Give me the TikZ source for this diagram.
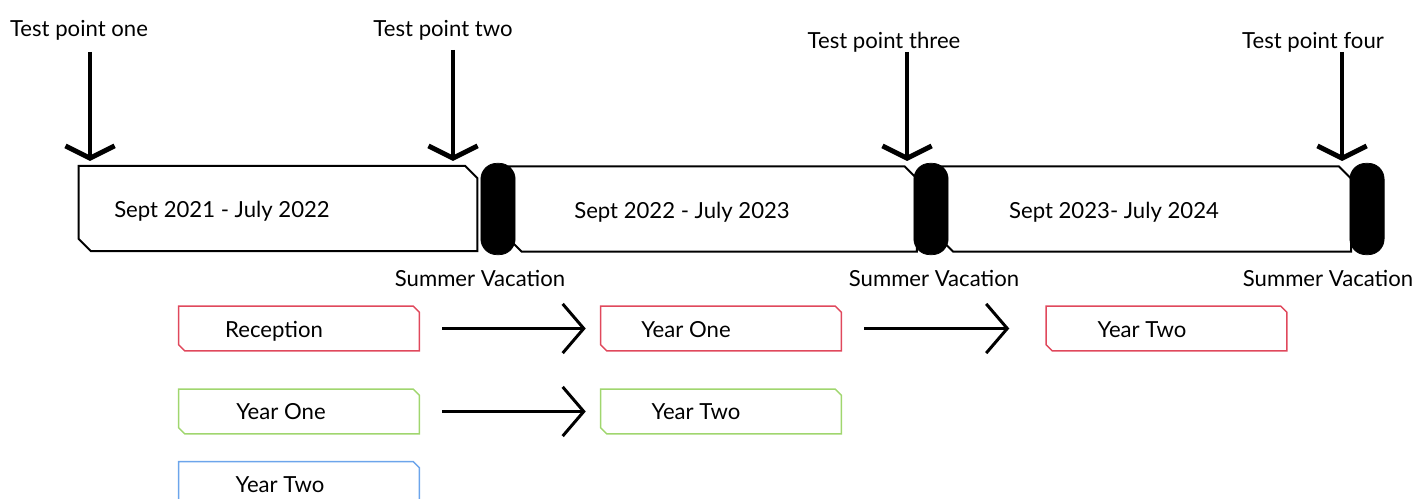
\documentclass[tikz,border=0pt]{standalone}
\usepackage{fontspec}
\setmainfont{Lato}
\usetikzlibrary{arrows.meta}
\definecolor{recred}{RGB}{224,72,92}
\definecolor{yrgreen}{RGB}{160,214,110}
\definecolor{yrblue}{RGB}{108,165,235}
% outline with cut corners (top right, bottom left) round a named node
\newcommand{\cutbox}[3][]{%
  \draw[#1] ([xshift=-#3]#2.north east) -- ([yshift=-#3]#2.north east) -- (#2.south east)
    -- ([xshift=#3]#2.south west) -- ([yshift=#3]#2.south west) -- (#2.north west) -- cycle;}
\begin{document}
\begin{tikzpicture}[x=0.02cm,y=-0.02cm,
  every node/.style={font=\fontsize{12.6}{14}\selectfont, text height=2.3ex, text depth=0.45ex},
  yearbox/.style={inner sep=0pt, outer sep=0pt, minimum height=48.5pt},
  classbox/.style={inner sep=0pt, outer sep=0pt, minimum width=137pt, minimum height=25.5pt},
  vacation/.style={fill=black, draw=black, rounded corners=9pt, minimum width=19.5pt, minimum height=52pt, inner sep=0pt},
  tparrow/.style={line width=2.8pt, -{Straight Barb[length=7pt, width=28pt, line width=2.8pt]}},
  moveon/.style={line width=1.7pt, -{Straight Barb[length=12pt, width=28pt, line width=1.7pt]}}]
\useasboundingbox (0,0) rectangle (1415,499);
% school years
\node[yearbox, minimum width=227pt] (y1) at (278,208.5) {};
\node[yearbox, minimum width=232pt] (y2) at (713,209) {};
\node[yearbox, minimum width=233.5pt] (y3) at (1146,209) {};
\cutbox[line width=1.1pt]{y1}{7pt}
\cutbox[line width=1.1pt]{y2}{7pt}
\cutbox[line width=1.1pt]{y3}{7pt}
\node (y1t) at (222,209) {Sept 2021 - July 2022};
\node (y2t) at (682,210) {Sept 2022 - July 2023};
\node (y3t) at (1114,210) {Sept 2023- July 2024};
% summer vacations
\node[vacation] (v1) at (498,209) {};
\node[vacation] (v2) at (931,209) {};
\node[vacation] (v3) at (1367,209) {};
\node (v1t) at (480,278) {Summer Vacation};
\node (v2t) at (934,278) {Summer Vacation};
\node (v3t) at (1328,278) {Summer Vacation};
% test points
\node (tp1) at (79,28) {Test point one};
\node (tp2) at (443,28) {Test point two};
\node (tp3) at (884,40) {Test point three};
\node (tp4) at (1313,40) {Test point four};
\coordinate (a1) at (90,52);  \coordinate (b1) at (90,161);
\coordinate (a2) at (453,50); \coordinate (b2) at (453,161);
\coordinate (a3) at (907,52); \coordinate (b3) at (907,161);
\coordinate (a4) at (1342,52); \coordinate (b4) at (1342,161);
\draw[tparrow] (a1) -- (b1);
\draw[tparrow] (a2) -- (b2);
\draw[tparrow] (a3) -- (b3);
\draw[tparrow] (a4) -- (b4);
% classes
\node[classbox] (rec) at (299,328.5) {};
\node[classbox] (r1) at (721,328.5) {};
\node[classbox] (r2) at (1166.5,328.5) {};
\node[classbox] (g1) at (299,411.5) {};
\node[classbox] (g2) at (721,411.5) {};
\node[classbox] (b0) at (299,484) {};
\cutbox[recred, line width=0.8pt]{rec}{3.5pt}
\cutbox[recred, line width=0.8pt]{r1}{3.5pt}
\cutbox[recred, line width=0.8pt]{r2}{3.5pt}
\cutbox[yrgreen, line width=0.8pt]{g1}{3.5pt}
\cutbox[yrgreen, line width=0.8pt]{g2}{3.5pt}
\cutbox[yrblue, line width=0.8pt]{b0}{3.5pt}
\node (rect) at (274,329) {Reception};
\node (r1t) at (686,329) {Year One};
\node (r2t) at (1142,329) {Year Two};
\node (g1t) at (281,411) {Year One};
\node (g2t) at (696,411) {Year Two};
\node (b0t) at (280,484) {Year Two};
\draw[moveon, shorten <=13pt, shorten >=8.5pt] (rec) -- (r1);
\draw[moveon, shorten <=13pt, shorten >=21pt] (r1) -- (r2);
\draw[moveon, shorten <=13pt, shorten >=8.5pt] (g1) -- (g2);
\end{tikzpicture}
\end{document}
